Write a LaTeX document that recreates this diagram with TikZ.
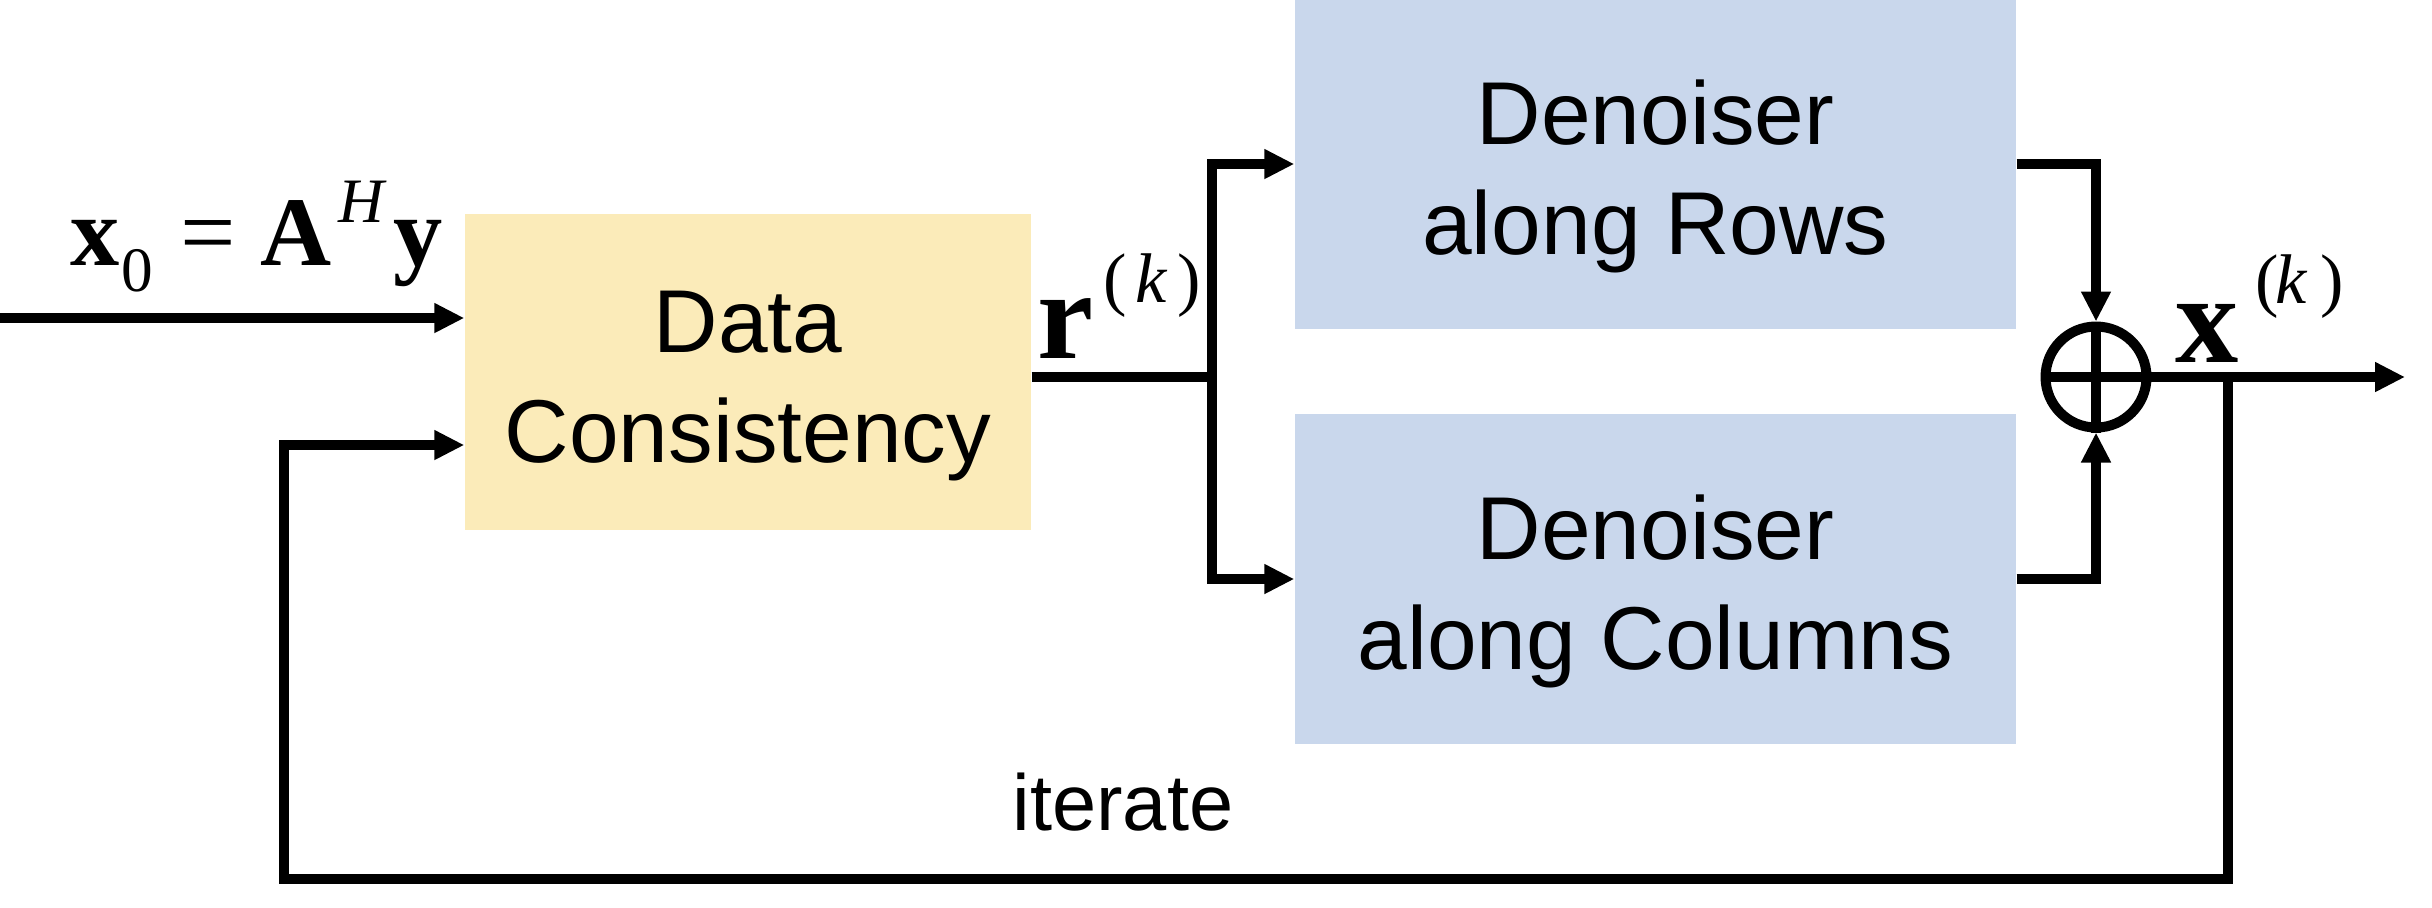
\documentclass[tikz,border=0pt]{standalone}
\usepackage{fontspec}
\setmainfont{Liberation Sans}
\newfontfamily\tnr{Liberation Serif}
\usetikzlibrary{arrows.meta}
\definecolor{dcfill}{HTML}{FBEBB9}
\definecolor{dnfill}{HTML}{C9D7EC}
\newcommand\glat[2]{\makebox[0pt][l]{\hspace*{#1}#2}}
\newcommand\supat[3]{\glat{#1}{\raisebox{#2}{\fontsize{20pt}{20pt}\selectfont #3}}}
\newcommand\tstr{\rule{0pt}{8.9mm}}
\begin{document}
\begin{tikzpicture}[x=0.1mm,y=-0.1mm,
  line/.style={line width=1.0mm},
  arr/.style={line, -{Triangle[length=3.0mm,width=2.8mm]}},
  blk/.style={draw=none, inner sep=0pt, align=center, font=\fontsize{25.4pt}{31.3pt}\selectfont},
  lbl/.style={anchor=base west, inner sep=0pt, font=\tnr},
]
\useasboundingbox (0,0) rectangle (2432,907);

% blocks
\node[blk, fill=dcfill, minimum width=56.6mm, minimum height=31.6mm] (dc) at (748,372) {\tstr Data\\Consistency};
\node[blk, fill=dnfill, minimum width=72.1mm, minimum height=33.0mm] (rows) at (1655.5,164) {\tstr Denoiser\\along Rows};
\node[blk, fill=dnfill, minimum width=72.1mm, minimum height=33.0mm] (cols) at (1655.5,579) {\tstr Denoiser\\along Columns};
\node[circle, draw, line width=1.0mm, fill=white, minimum size=10.1mm, inner sep=0pt] (sum) at (2096,377) {};
\draw[line] (sum.north) -- (sum.south) (sum.west) -- (sum.east);

% coordinates
\coordinate (in) at (0,318);
\coordinate (br) at (1212,377);
\coordinate (out) at (2405,377);
\coordinate (tap) at (2228,377);
\coordinate (fb) at (284,879);
\coordinate (fbl) at (284,445);

% connectors
\draw[arr] (in) -- (in -| dc.west);
\draw[line] (dc.east |- br) -- (br);
\draw[arr] (br) |- (rows.west);
\draw[arr] (br) |- (cols.west);
\draw[arr] (rows.east) -| (sum.north);
\draw[arr] (cols.east) -| (sum.south);
\draw[arr] (sum.east) -- (out);
\draw[arr] (tap) |- (fb) -- (fbl) -- (fbl -| dc.west);

% labels
\node[lbl] (lx0) at (70,265) {\fontsize{28pt}{28pt}\selectfont
  \glat{0mm}{\bfseries x}%
  \glat{5.1mm}{\raisebox{-2.6mm}{\fontsize{18pt}{18pt}\selectfont 0}}%
  \glat{11.0mm}{=}%
  \glat{19.0mm}{\bfseries A}%
  \glat{26.8mm}{\raisebox{4.3mm}{\fontsize{18pt}{18pt}\selectfont\itshape H}}%
  \glat{32.3mm}{\bfseries y}%
  \hspace*{37mm}};
\node[lbl] (lr) at (1037,358) {\fontsize{36pt}{36pt}\selectfont
  \glat{0mm}{\bfseries r}%
  \supat{6.6mm}{5.6mm}{(}%
  \supat{9.8mm}{5.6mm}{\itshape k}%
  \supat{14.0mm}{5.6mm}{)}%
  \hspace*{16.2mm}};
\node[lbl] (lx) at (2175,362) {\fontsize{36pt}{36pt}\selectfont
  \glat{0mm}{\bfseries x}%
  \supat{8.0mm}{5.9mm}{(}%
  \supat{10.0mm}{5.9mm}{\itshape k}%
  \supat{14.5mm}{5.9mm}{)}%
  \hspace*{16.8mm}};
\node[anchor=base, inner sep=0pt, font=\fontsize{22.6pt}{27pt}\selectfont] (it) at (1123,830) {iterate};
\end{tikzpicture}
\end{document}
